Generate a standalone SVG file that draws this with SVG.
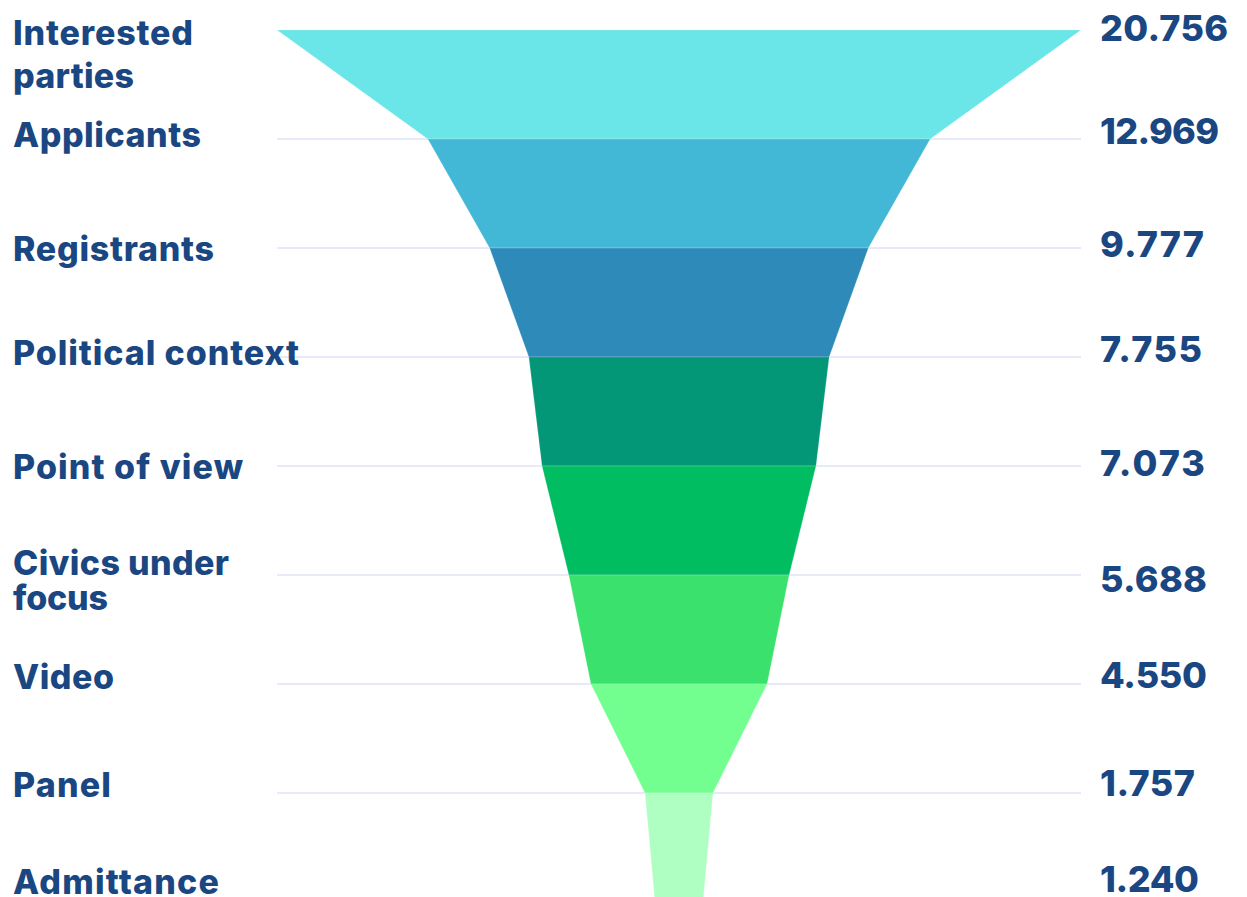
<svg xmlns="http://www.w3.org/2000/svg" width="1247" height="897" viewBox="0 0 1247 897">
  <style>
    .lbl { font-family: Inter, "Noto Sans", "Liberation Sans", sans-serif; font-weight: 800; font-size: 34px; fill: #1a4782; }
    .val { font-family: Inter, "Noto Sans", "Liberation Sans", sans-serif; font-weight: 800; font-size: 36px; fill: #1a4782; }
    .grid { stroke: #dfe3f7; stroke-width: 1.6; fill: none; }
    .seg { stroke: #ffffff; stroke-opacity: 0.25; stroke-width: 0.8; }
  </style>
  <rect x="0" y="0" width="1247" height="897" fill="#ffffff"/>
  <g id="gridlines">
    <line class="grid" x1="277" y1="139" x2="1081" y2="139"/>
    <line class="grid" x1="277" y1="248" x2="1081" y2="248"/>
    <line class="grid" x1="277" y1="357" x2="1081" y2="357"/>
    <line class="grid" x1="277" y1="466" x2="1081" y2="466"/>
    <line class="grid" x1="277" y1="575" x2="1081" y2="575"/>
    <line class="grid" x1="277" y1="684" x2="1081" y2="684"/>
    <line class="grid" x1="277" y1="793" x2="1081" y2="793"/>
  </g>
  <g id="stage-interested">
    <polygon class="seg" fill="#6ae5e8" points="277,30 1081,30 930.2,139 427.8,139"/>
    <text class="lbl" x="13" y="45" textLength="180" lengthAdjust="spacing">Interested</text>
    <text class="lbl" x="13" y="88" textLength="121" lengthAdjust="spacing">parties</text>
    <text class="val" x="1100" y="41" textLength="128" lengthAdjust="spacing">20.756</text>
  </g>
  <g id="stage-applicants">
    <polygon class="seg" fill="#43b7d6" points="427.8,139 930.2,139 868.4,248 489.6,248"/>
    <text class="lbl" x="13" y="147" textLength="188" lengthAdjust="spacing">Applicants</text>
    <text class="val" x="1100" y="144" textLength="119" lengthAdjust="spacing">12.969</text>
  </g>
  <g id="stage-registrants">
    <polygon class="seg" fill="#2e8bb9" points="489.6,248 868.4,248 829.2,357 528.8,357"/>
    <text class="lbl" x="13" y="261" textLength="201" lengthAdjust="spacing">Registrants</text>
    <text class="val" x="1100" y="257" textLength="104" lengthAdjust="spacing">9.777</text>
  </g>
  <g id="stage-political-context">
    <polygon class="seg" fill="#039777" points="528.8,357 829.2,357 816,466 542,466"/>
    <text class="lbl" x="13" y="365" textLength="286" lengthAdjust="spacing">Political context</text>
    <text class="val" x="1100" y="362" textLength="102" lengthAdjust="spacing">7.755</text>
  </g>
  <g id="stage-point-of-view">
    <polygon class="seg" fill="#00bd62" points="542,466 816,466 789.2,575 568.8,575"/>
    <text class="lbl" x="13" y="479" textLength="230" lengthAdjust="spacing">Point of view</text>
    <text class="val" x="1100" y="476" textLength="105" lengthAdjust="spacing">7.073</text>
  </g>
  <g id="stage-civics-under-focus">
    <polygon class="seg" fill="#3ae26d" points="568.8,575 789.2,575 767.1,684 590.9,684"/>
    <text class="lbl" x="13" y="575" textLength="216" lengthAdjust="spacing">Civics under</text>
    <text class="lbl" x="13" y="610" textLength="95" lengthAdjust="spacing">focus</text>
    <text class="val" x="1100" y="592" textLength="107" lengthAdjust="spacing">5.688</text>
  </g>
  <g id="stage-video">
    <polygon class="seg" fill="#72ff8f" points="590.9,684 767.1,684 713,793 645,793"/>
    <text class="lbl" x="13" y="689" textLength="101" lengthAdjust="spacing">Video</text>
    <text class="val" x="1100" y="688" textLength="107" lengthAdjust="spacing">4.550</text>
  </g>
  <g id="stage-panel">
    <polygon class="seg" fill="#aeffc1" points="645,793 713,793 703,902 655,902"/>
    <text class="lbl" x="13" y="797" textLength="98" lengthAdjust="spacing">Panel</text>
    <text class="val" x="1100" y="796" textLength="95" lengthAdjust="spacing">1.757</text>
  </g>
  <g id="stage-admittance">
    <text class="lbl" x="13" y="894" textLength="206" lengthAdjust="spacing">Admittance</text>
    <text class="val" x="1100" y="892" textLength="99" lengthAdjust="spacing">1.240</text>
  </g>
</svg>
